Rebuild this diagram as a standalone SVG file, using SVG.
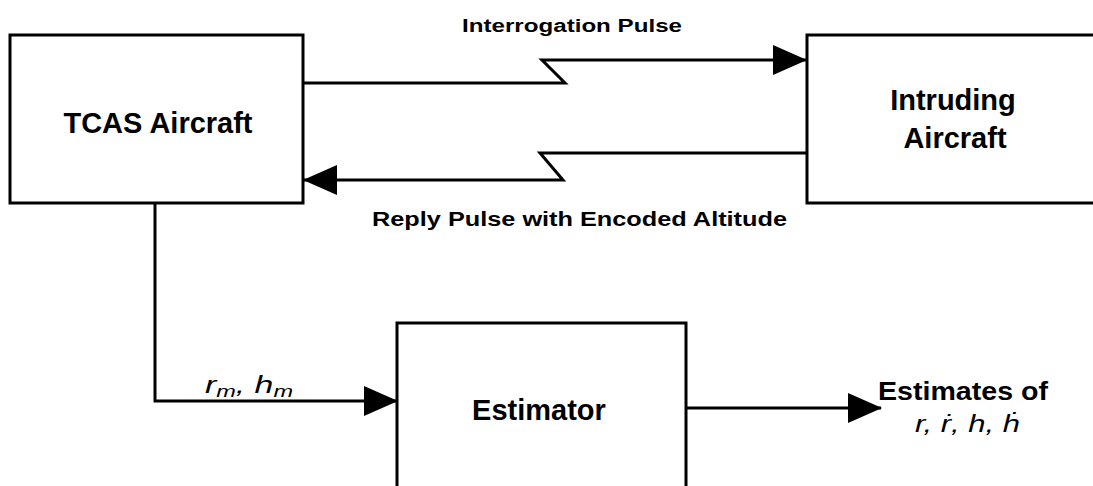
<svg xmlns="http://www.w3.org/2000/svg" width="1093" height="486" viewBox="0 0 1093 486">
<style>
.box{fill:#fff;stroke:#000;stroke-width:3}
.ln{fill:none;stroke:#000;stroke-width:3;stroke-linejoin:miter}
.lbl{font-family:"Liberation Sans",Arial,sans-serif;font-weight:bold;fill:#000}
.big{font-size:29px;text-anchor:middle}
.it{font-family:"Liberation Sans",Arial,sans-serif;font-style:italic;fill:#000}
</style>
<defs>
<marker id="ah" markerUnits="userSpaceOnUse" markerWidth="34" markerHeight="30" refX="33" refY="15" orient="auto">
<path d="M0,0 L34,15 L0,30 z" fill="#000"/>
</marker>
</defs>
<rect width="1093" height="486" fill="#fff"/>
<g id="tcas">
<rect class="box" x="10" y="35" width="293" height="168"/>
<text class="lbl big" x="158" y="133">TCAS Aircraft</text>
</g>
<g id="intruder">
<rect class="box" x="807" y="35" width="300" height="168"/>
<text class="lbl big" x="953" y="110">Intruding</text>
<text class="lbl big" x="955" y="148">Aircraft</text>
</g>
<g id="estimator">
<rect class="box" x="397" y="323" width="289" height="180"/>
<text class="lbl big" x="539" y="420">Estimator</text>
</g>
<g id="connectors">
<path class="ln" d="M303,83 L565,83 L542,60 L806,60" marker-end="url(#ah)"/>
<path class="ln" d="M807,153 L540,153 L563,180 L304,180" marker-end="url(#ah)"/>
<path class="ln" d="M155,203 L155,401 L397,401" marker-end="url(#ah)"/>
<path class="ln" d="M686,408 L881,408" marker-end="url(#ah)"/>
<text class="lbl" x="462" y="32" font-size="18" textLength="220" lengthAdjust="spacingAndGlyphs">Interrogation Pulse</text>
<text class="lbl" x="372" y="226" font-size="20" textLength="415" lengthAdjust="spacingAndGlyphs">Reply Pulse with Encoded Altitude</text>
<text class="it" x="205" y="393" font-size="23" textLength="88" lengthAdjust="spacingAndGlyphs">r<tspan font-size="16" dy="4">m</tspan><tspan dy="-4">, h</tspan><tspan font-size="16" dy="4">m</tspan></text>
</g>
<g id="output">
<text class="lbl" x="878" y="400" font-size="25" textLength="170" lengthAdjust="spacingAndGlyphs">Estimates of</text>
<text class="it" x="915" y="432" font-size="24" textLength="105" lengthAdjust="spacingAndGlyphs">r, ṙ, h, ḣ</text>
</g>
</svg>
